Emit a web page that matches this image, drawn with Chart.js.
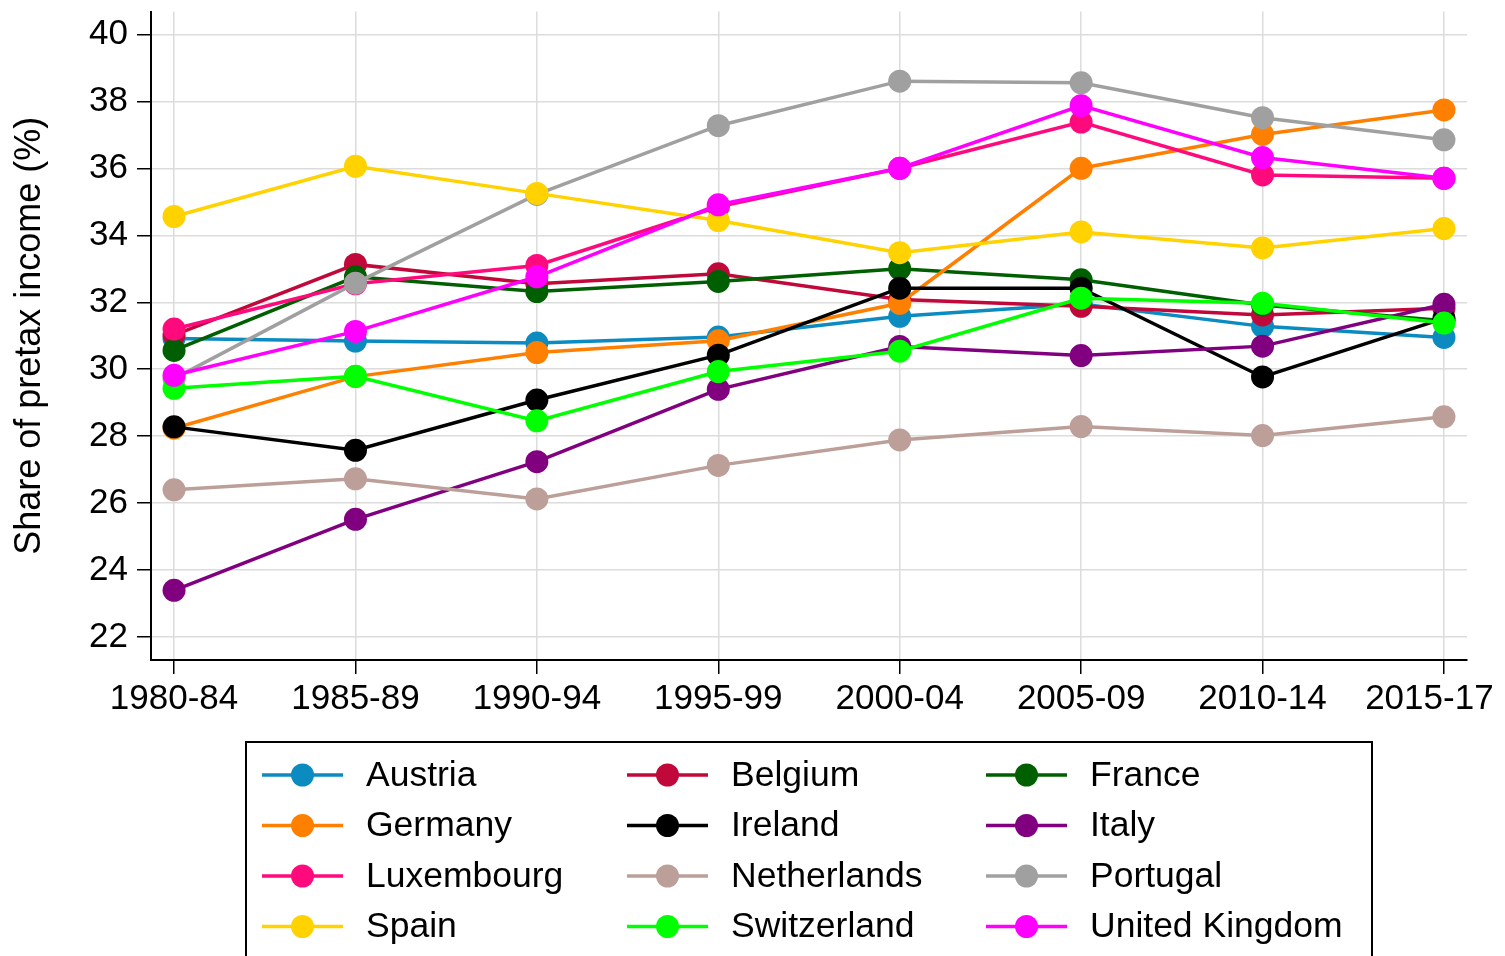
<!DOCTYPE html>
<html>
<head>
<meta charset="utf-8">
<script src="https://cdn.jsdelivr.net/npm/chart.js@4"></script>
<style>
  html, body { margin: 0; padding: 0; background: #fff; }
  #wrap { width: 1505px; height: 956px; }
</style>
</head>
<body>
<div id="wrap"><canvas id="chartContainer" width="1505" height="956"></canvas></div>
<script>
// periods on the x axis
var periods = ['1980-84', '1985-89', '1990-94', '1995-99', '2000-04', '2005-09', '2010-14', '2015-17'];
var yTicks = [22, 24, 26, 28, 30, 32, 34, 36, 38, 40];

// share of pretax income (%) per country
var austria     = [30.92, 30.84, 30.78, 30.96, 31.58, 31.95, 31.28, 30.95];
var belgium     = [31.02, 33.13, 32.55, 32.85, 32.08, 31.88, 31.62, 31.82];
var france      = [30.56, 32.76, 32.32, 32.62, 33.00, 32.67, 31.92, 31.45];
var germany     = [28.24, 29.78, 30.50, 30.85, 31.97, 36.00, 37.01, 37.74];
var ireland     = [28.28, 27.58, 29.08, 30.42, 32.42, 32.42, 29.77, 31.52];
var italy       = [23.40, 25.52, 27.24, 29.40, 30.68, 30.41, 30.69, 31.94];
var luxembourg  = [31.20, 32.55, 33.10, 34.85, 36.00, 37.38, 35.80, 35.70];
var netherlands = [26.40, 26.73, 26.13, 27.13, 27.89, 28.29, 28.02, 28.58];
var portugal    = [29.72, 32.57, 35.22, 37.27, 38.60, 38.55, 37.51, 36.85];
var spain       = [34.56, 36.06, 35.25, 34.44, 33.48, 34.10, 33.62, 34.20];
var switzerland = [29.43, 29.79, 28.46, 29.93, 30.54, 32.12, 31.97, 31.38];
var uk          = [29.82, 31.13, 32.76, 34.91, 36.00, 37.87, 36.32, 35.70];

var countries = ['Austria', 'Belgium', 'France', 'Germany', 'Ireland', 'Italy',
                 'Luxembourg', 'Netherlands', 'Portugal', 'Spain', 'Switzerland', 'United Kingdom'];
var series = [austria, belgium, france, germany, ireland, italy,
              luxembourg, netherlands, portugal, spain, switzerland, uk];
var colors = ['#0b8bbf', '#c0083a', '#005f00', '#ff8000', '#000000', '#800080',
              '#ff0a7c', '#bc9f98', '#a0a0a0', '#ffd200', '#00ff00', '#ff00ff'];

var FONT = '"Liberation Sans", Arial, Helvetica, sans-serif';

var datasets = countries.map(function (name, i) {
    return {
        label: name,
        data: series[i].map(function (v, j) { return { x: j, y: v }; }),
        borderColor: colors[i],
        backgroundColor: colors[i],
        borderWidth: 3.5,
        pointRadius: 11.5,
        pointHoverRadius: 11.5,
        pointBorderWidth: 0,
        tension: 0,
        order: countries.length - i   // later countries drawn on top
    };
});

// legend box below the plot, 3 columns like the original
var boxLegend = {
    id: 'boxLegend',
    afterDraw: function (chart) {
        var c = chart.ctx;
        c.save();
        c.strokeStyle = '#000';
        c.lineWidth = 2;
        c.strokeRect(246, 742, 1126, 230);
        var colX = [262, 627, 986];
        var rowY = [775, 825.5, 876, 926.5];
        c.font = '35.5px ' + FONT;
        c.textBaseline = 'middle';
        chart.data.datasets.forEach(function (ds, i) {
            var x = colX[i % 3], y = rowY[Math.floor(i / 3)];
            c.strokeStyle = ds.borderColor;
            c.lineWidth = 3.5;
            c.beginPath();
            c.moveTo(x, y);
            c.lineTo(x + 81, y);
            c.stroke();
            c.fillStyle = ds.borderColor;
            c.beginPath();
            c.arc(x + 40.5, y, 11.5, 0, Math.PI * 2);
            c.fill();
            c.fillStyle = '#000';
            c.fillText(ds.label, x + 104, y + 1);
        });
        c.restore();
    }
};

var ctx = document.getElementById('chartContainer').getContext('2d');
var chart = new Chart(ctx, {
    type: 'line',
    data: { datasets: datasets },
    plugins: [boxLegend],
    options: {
        responsive: false,
        animation: false,
        layout: { padding: { left: 0, top: 7, right: 38, bottom: 0 } },
        plugins: {
            legend: { display: false },
            tooltip: { enabled: false }
        },
        scales: {
            x: {
                type: 'linear',
                min: -0.127,
                max: 7.127,
                afterBuildTicks: function (scale) {
                    scale.ticks = periods.map(function (p, i) { return { value: i }; });
                },
                afterFit: function (scale) {
                    scale.height = 296;
                    scale.paddingLeft = 0;
                    scale.paddingRight = 0;
                },
                ticks: {
                    autoSkip: false,
                    maxRotation: 0,
                    padding: 4,
                    color: '#000',
                    font: { family: FONT, size: 35 },
                    // last label pulled in a bit so it stays inside the page
                    callback: function (v) {
                        return v === periods.length - 1 ? periods[v] + '   ' : periods[v];
                    }
                },
                grid: { color: '#dcdcdc', lineWidth: 1.5, tickLength: 14, tickColor: '#000', tickWidth: 1.5 },
                border: { display: true, color: '#000', width: 2 }
            },
            y: {
                min: 21.32,
                max: 40.68,
                afterBuildTicks: function (scale) {
                    scale.ticks = yTicks.map(function (v) { return { value: v }; });
                },
                afterFit: function (scale) {
                    scale.width = 151;
                    scale.paddingTop = 0;
                    scale.paddingBottom = 0;
                },
                ticks: {
                    padding: 9,
                    color: '#000',
                    font: { family: FONT, size: 35 }
                },
                grid: { color: '#dcdcdc', lineWidth: 1.5, tickLength: 14, tickColor: '#000', tickWidth: 1.5 },
                border: { display: true, color: '#000', width: 2 },
                title: {
                    display: true,
                    text: 'Share of pretax income (%)',
                    color: '#000',
                    font: { family: FONT, size: 36 },
                    padding: { top: 8, bottom: 0 }
                }
            }
        }
    }
});
</script>
</body>
</html>
